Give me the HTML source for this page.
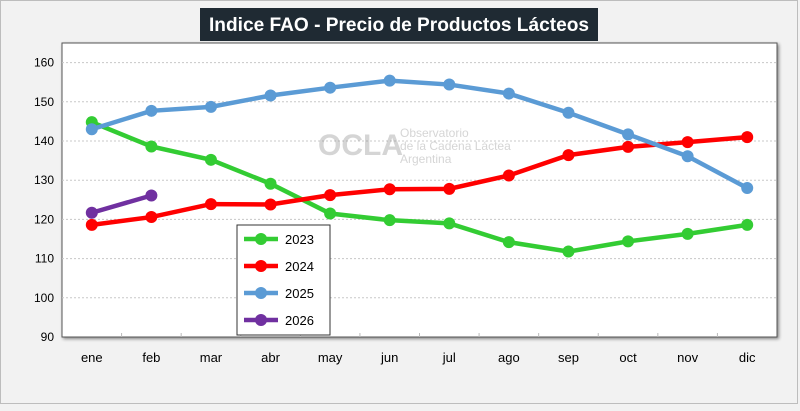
<!DOCTYPE html>
<html><head><meta charset="utf-8"><style>
body{margin:0;background:#f2f2f2;width:800px;height:406px;overflow:hidden;font-family:"Liberation Sans",sans-serif}
</style></head><body>
<svg width="800" height="406" id="c" font-family="Liberation Sans, sans-serif">
<defs><filter id="sh" x="-5%" y="-5%" width="110%" height="110%"><feDropShadow dx="1.5" dy="1.5" stdDeviation="1.5" flood-color="#000" flood-opacity="0.45"/></filter></defs>
<rect x="0.5" y="0.5" width="797" height="403" fill="#f2f2f2" stroke="#bdbdbd" stroke-width="1"/>
<rect x="62" y="43" width="715" height="294" fill="#fff" stroke="#555" stroke-width="1" filter="url(#sh)"/>
<g id="grid"></g>
<g opacity="0.35" fill="#888">
<text x="318" y="155" font-size="30" font-weight="bold">OCLA</text>
<text x="400" y="137" font-size="12">Observatorio</text>
<text x="400" y="150" font-size="12">de la Cadena Láctea</text>
<text x="400" y="163" font-size="12">Argentina</text>
</g>
<g id="series"></g>
<rect x="200" y="8" width="398" height="33" fill="#1f2a33"/>
<text x="399" y="31" text-anchor="middle" fill="#fff" font-size="19" font-weight="bold" textLength="380" lengthAdjust="spacingAndGlyphs">Indice FAO - Precio de Productos Lácteos</text>
<g id="legend"></g>
</svg>
<script>
const months=["ene","feb","mar","abr","may","jun","jul","ago","sep","oct","nov","dic"];
const yTicks=[90,100,110,120,130,140,150,160];
const s2023=[144.8,138.6,135.2,129.1,121.5,119.8,119.0,114.2,111.8,114.4,116.3,118.6];
const s2024=[118.6,120.6,123.9,123.8,126.2,127.7,127.8,131.2,136.4,138.5,139.7,141.0];
const s2025=[143.0,147.7,148.7,151.6,153.6,155.4,154.4,152.1,147.2,141.7,136.1,128.0];
const s2026=[121.7,126.1];
const seriesNames=["2023","2024","2025","2026"];
const seriesColors=["#33cc33","#ff0000","#5b9bd5","#7030a0"];
const seriesData=[s2023,s2024,s2025,s2026];
const NS="http://www.w3.org/2000/svg";
const X0=62,W=715,Y0=337,H=294,YMIN=90,YMAX=165;
function xs(i){return X0+W/months.length*(i+0.5);}
function ys(v){return Y0-(v-YMIN)/(YMAX-YMIN)*H;}
function mk(t,a,p){const e=document.createElementNS(NS,t);for(const k in a)e.setAttribute(k,a[k]);p.appendChild(e);return e;}
const g=document.getElementById('grid');
yTicks.forEach(v=>{
 if(v>YMIN){const l=mk('line',{x1:X0,x2:X0+W,y1:ys(v),y2:ys(v),stroke:'#c8c8c8','stroke-dasharray':'2,2'},g);
 
 }
 const t=mk('text',{x:X0-8,y:ys(v)+4,'text-anchor':'end','font-size':12,fill:'#000'},g);t.textContent=v;
 
 
});
months.forEach((m,i)=>{
 if(i>0){mk('line',{x1:X0+W/12*i,x2:X0+W/12*i,y1:Y0,y2:Y0-4,stroke:'#bbb'},g);}
 const t=mk('text',{x:xs(i),y:362,'text-anchor':'middle','font-size':13,fill:'#000'},g);t.textContent=m;
 
 
});
const sg=document.getElementById('series');
seriesData.forEach((d,k)=>{
 const p=mk('polyline',{points:d.map((v,i)=>xs(i)+','+ys(v)).join(' '),fill:'none',stroke:seriesColors[k],'stroke-width':4.5},sg);
 
 
 d.forEach((v,i)=>{const c=mk('circle',{cx:xs(i),cy:ys(v),r:6,fill:seriesColors[k]},sg);
 
 });
});
const lg=document.getElementById('legend');
const lb=mk('rect',{x:237,y:225,width:93,height:110,fill:'#fff',stroke:'#333'},lg);


seriesNames.forEach((n,k)=>{
 const y=239+k*27;
 const l=mk('line',{x1:244,x2:278,y1:y,y2:y,stroke:seriesColors[k],'stroke-width':4.5},lg);
 
 
 mk('circle',{cx:261,cy:y,r:6,fill:seriesColors[k]},lg);
 const t=mk('text',{x:285,y:y+5,'font-size':13,fill:'#000'},lg);t.textContent=n;
 
 
});
</script>
</body></html>
